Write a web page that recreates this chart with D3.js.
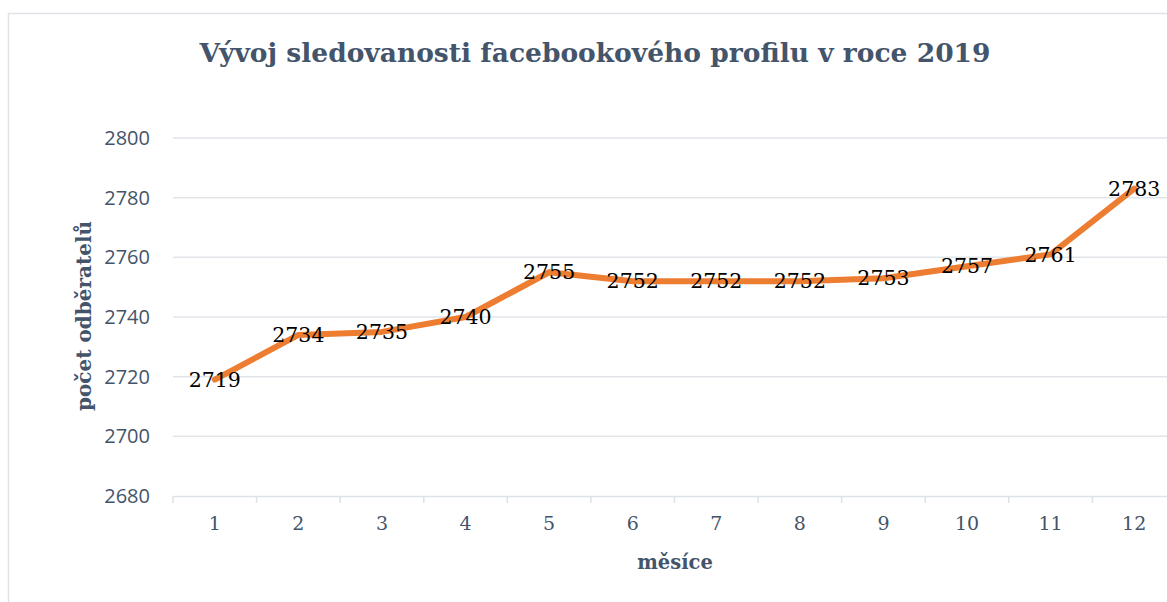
<!DOCTYPE html>
<html>
<head>
<meta charset="utf-8">
<script src="https://cdn.jsdelivr.net/npm/d3@7"></script>
<style>
  body { margin: 0; background: #fff; }
</style>
</head>
<body>
<div id="wrapper"></div>
<script>
var months = ["1", "2", "3", "4", "5", "6", "7", "8", "9", "10", "11", "12"];
var followers = [2719, 2734, 2735, 2740, 2755, 2752, 2752, 2752, 2753, 2757, 2761, 2783];
var yTicks = [2680, 2700, 2720, 2740, 2760, 2780, 2800];

var W = 1167, H = 602;
var svg = d3.select('#wrapper')
            .append('svg')
            .attr('width', W)
            .attr('height', H);

// chart frame
svg.append('rect')
   .attr('x', 8.5).attr('y', 13.5)
   .attr('width', 1180).attr('height', 620)
   .attr('fill', 'none')
   .attr('stroke', '#dfe3e8')
   .attr('stroke-width', 1.5);

var plotL = 173, plotR = 1176, plotT = 138, plotB = 496;

var x = d3.scaleBand().domain(months).range([plotL, plotR]);
var y = d3.scaleLinear().domain([2680, 2800]).range([plotB, plotT]);

// gridlines
svg.selectAll('line.grid')
   .data(yTicks.slice(1))
   .enter()
   .append('line')
   .attr('class', 'grid')
   .attr('x1', plotL).attr('x2', plotR)
   .attr('y1', function(d) { return y(d); })
   .attr('y2', function(d) { return y(d); })
   .attr('stroke', '#e1e5ea')
   .attr('stroke-width', 1.5);

// x axis with ticks between categories
var xAxis = d3.axisBottom(x).tickSize(0).tickPadding(21);
var gx = svg.append('g')
            .attr('transform', 'translate(0,' + plotB + ')')
            .call(xAxis);
gx.select('.domain').attr('stroke', '#dde2e8').attr('stroke-width', 1.5);
gx.selectAll('text')
  .attr('fill', '#44546a')
  .style('font-family', '"DejaVu Serif", "Liberation Serif", serif')
  .style('font-size', '19px');

svg.selectAll('line.xtick')
   .data(months.concat(['end']))
   .enter()
   .append('line')
   .attr('class', 'xtick')
   .attr('x1', function(d, i) { return plotL + i * x.step(); })
   .attr('x2', function(d, i) { return plotL + i * x.step(); })
   .attr('y1', plotB).attr('y2', plotB + 7)
   .attr('stroke', '#dde2e8')
   .attr('stroke-width', 1.5);

// y axis labels
var yAxis = d3.axisLeft(y).tickValues(yTicks).tickSize(0).tickPadding(23).tickFormat(d3.format('d'));
var gy = svg.append('g')
            .attr('transform', 'translate(' + plotL + ',0)')
            .call(yAxis);
gy.select('.domain').remove();
gy.selectAll('text')
  .attr('fill', '#44546a')
  .style('font-family', '"Open Sans", "Liberation Sans", sans-serif')
  .style('font-size', '20px');

// the line
var line = d3.line()
             .x(function(d, i) { return x(months[i]) + x.bandwidth() / 2; })
             .y(function(d) { return y(d); });

svg.append('path')
   .datum(followers)
   .attr('d', line)
   .attr('fill', 'none')
   .attr('stroke', '#ed7d31')
   .attr('stroke-width', 6)
   .attr('stroke-linejoin', 'round')
   .attr('stroke-linecap', 'round');

// data labels
svg.selectAll('text.lbl')
   .data(followers)
   .enter()
   .append('text')
   .attr('class', 'lbl')
   .attr('x', function(d, i) { return x(months[i]) + x.bandwidth() / 2; })
   .attr('y', function(d) { return y(d); })
   .attr('dy', '0.35em')
   .attr('text-anchor', 'middle')
   .style('font-family', '"DejaVu Serif", "Liberation Serif", serif')
   .style('font-size', '20.5px')
   .attr('fill', '#000')
   .text(function(d) { return d; });

// title
svg.append('text')
   .attr('x', 595).attr('y', 62)
   .attr('text-anchor', 'middle')
   .attr('fill', '#44546a')
   .style('font-family', '"DejaVu Serif", "Liberation Serif", serif')
   .style('font-weight', 'bold')
   .style('font-size', '26.5px')
   .text('Vývoj sledovanosti facebookového profilu v roce 2019');

// axis titles
svg.append('text')
   .attr('transform', 'translate(91,316) rotate(-90)')
   .attr('text-anchor', 'middle')
   .attr('fill', '#44546a')
   .style('font-family', '"DejaVu Serif", "Liberation Serif", serif')
   .style('font-weight', 'bold')
   .style('font-size', '20px')
   .text('počet odběratelů');

svg.append('text')
   .attr('x', 675).attr('y', 569)
   .attr('text-anchor', 'middle')
   .attr('fill', '#44546a')
   .style('font-family', '"DejaVu Serif", "Liberation Serif", serif')
   .style('font-weight', 'bold')
   .style('font-size', '19.5px')
   .text('měsíce');
</script>
</body>
</html>
